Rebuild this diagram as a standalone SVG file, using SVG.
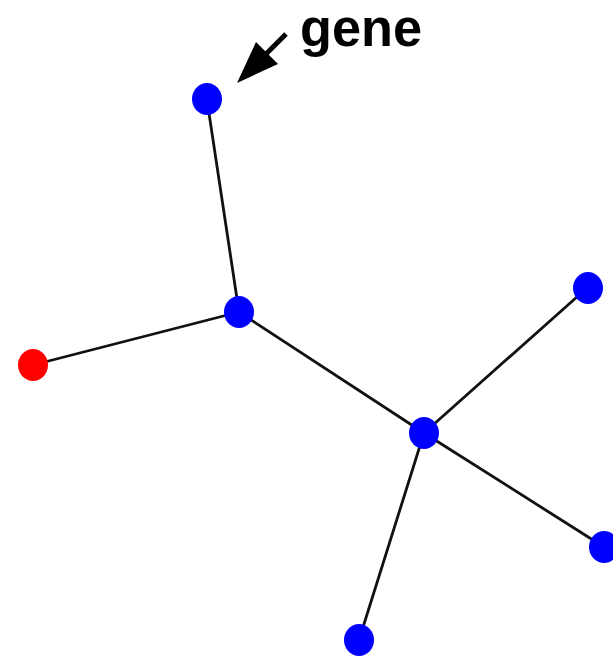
<svg xmlns="http://www.w3.org/2000/svg" width="613" height="659" viewBox="0 0 613 659">
  <style>
    .edge { stroke: #111; stroke-width: 2.8; stroke-linecap: round; fill: none; }
    .gene { fill: #0000ff; }
    .root { fill: #ff0000; }
    .label { font-family: "Liberation Sans", Arial, sans-serif; font-weight: bold; font-size: 51px; fill: #000; }
  </style>
  <rect width="613" height="659" fill="#fff"/>
  <g id="connectors">
    <line class="edge" x1="207" y1="100" x2="239" y2="312"/>
    <line class="edge" x1="33" y1="365" x2="239" y2="312"/>
    <line class="edge" x1="239" y1="312" x2="424" y2="433"/>
    <line class="edge" x1="424" y1="433" x2="587" y2="288"/>
    <line class="edge" x1="424" y1="433" x2="604" y2="547"/>
    <line class="edge" x1="424" y1="433" x2="359" y2="640"/>
  </g>
  <g id="n-gene"><ellipse class="gene" cx="207" cy="99" rx="15" ry="16"/></g>
  <g id="n-center"><ellipse class="gene" cx="239" cy="312" rx="15" ry="16"/></g>
  <g id="n-red"><ellipse class="root" cx="33" cy="365" rx="15" ry="16"/></g>
  <g id="n-hub"><ellipse class="gene" cx="424" cy="433" rx="15" ry="16"/></g>
  <g id="n-topright"><ellipse class="gene" cx="588" cy="288" rx="15" ry="16"/></g>
  <g id="n-bottomright"><ellipse class="gene" cx="604" cy="547" rx="15" ry="16"/></g>
  <g id="n-bottom"><ellipse class="gene" cx="359" cy="640" rx="15" ry="16"/></g>
  <g id="annotation">
    <line x1="286" y1="34" x2="262" y2="58" stroke="#000" stroke-width="5"/>
    <polygon points="237,83 256,42 278,64" fill="#000"/>
    <text class="label" x="300" y="46" textLength="122" lengthAdjust="spacingAndGlyphs">gene</text>
  </g>
</svg>
